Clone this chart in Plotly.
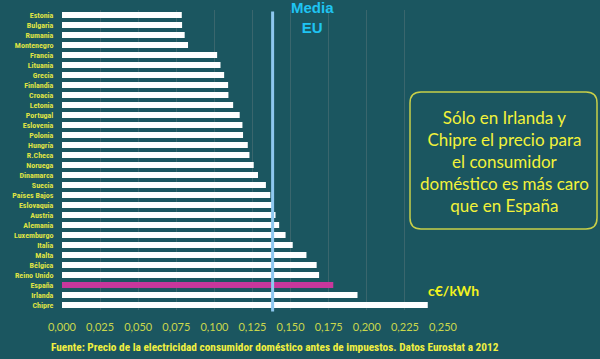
import plotly.graph_objects as go

countries = ["Estonia", "Bulgaria", "Rumania", "Montenegro", "Francia", "Lituania", "Grecia",
             "Finlandia", "Croacia", "Letonia", "Portugal", "Eslovenia", "Polonia", "Hungría",
             "R.Checa", "Noruega", "Dinamarca", "Suecia", "Países Bajos", "Eslovaquia", "Austria",
             "Alemania", "Luxemburgo", "Italia", "Malta", "Bélgica", "Reino Unido", "España",
             "Irlanda", "Chipre"]
prices = [0.0786, 0.0788, 0.0805, 0.0827, 0.1018, 0.1040, 0.1064,
          0.1090, 0.1092, 0.1123, 0.1166, 0.1184, 0.1188, 0.1219,
          0.1230, 0.1258, 0.1286, 0.1338, 0.1367, 0.1390, 0.1401,
          0.1425, 0.1467, 0.1514, 0.1604, 0.1671, 0.1687, 0.1780,
          0.1939, 0.2400]
eu_mean = 0.1382
highlight = "España"

x_tickvals = [0.0, 0.025, 0.05, 0.075, 0.1, 0.125, 0.15, 0.175, 0.2, 0.225, 0.25]
x_ticktext = ["0,000", "0,025", "0,050", "0,075", "0,100", "0,125", "0,150", "0,175",
              "0,200", "0,225", "0,250"]

BG = "#1b5660"
colors = ["#c8379c" if c == highlight else "#ffffff" for c in countries]

fig = go.Figure()
fig.add_trace(go.Bar(
    x=prices, y=countries, orientation="h",
    marker=dict(color=colors, line=dict(width=0)),
    width=0.6, hoverinfo="x+y",
))

# EU mean line
fig.add_shape(type="line", xref="x", yref="paper", x0=eu_mean, x1=eu_mean, y0=-0.005, y1=0.995,
              line=dict(color="#8ec8f0", width=3), layer="above")

# Rounded box (paper coords: px -> (px-62)/381, py -> (310-py)/300)
def px(x):
    return (x - 62) / 381.0

def py(y):
    return (310 - y) / 300.0

x0, x1, y0, y1, r = 410, 597, 92, 229, 11
path = (f"M {px(x0 + r)},{py(y0)} L {px(x1 - r)},{py(y0)} Q {px(x1)},{py(y0)} {px(x1)},{py(y0 + r)} "
        f"L {px(x1)},{py(y1 - r)} Q {px(x1)},{py(y1)} {px(x1 - r)},{py(y1)} "
        f"L {px(x0 + r)},{py(y1)} Q {px(x0)},{py(y1)} {px(x0)},{py(y1 - r)} "
        f"L {px(x0)},{py(y0 + r)} Q {px(x0)},{py(y0)} {px(x0 + r)},{py(y0)} Z")
fig.add_shape(type="path", xref="paper", yref="paper", path=path,
              line=dict(color="#c8cf48", width=1.5), fillcolor="rgba(0,0,0,0)")

fig.add_annotation(xref="paper", yref="paper", x=px(504), y=py(162),
                   text="Sólo en Irlanda y<br>Chipre el precio para<br>el consumidor<br>doméstico es más caro<br>que en España",
                   showarrow=False, align="center", xanchor="center", yanchor="middle",
                   font=dict(family="Lato, Open Sans, Arial", size=17, color="#f2f23a"))

fig.add_annotation(xref="paper", yref="paper", x=px(312), y=py(18),
                   text="<b>Media<br>EU</b>", showarrow=False, align="center",
                   xanchor="center", yanchor="middle",
                   font=dict(family="Liberation Sans, Arial", size=15, color="#1fc4f2"))

fig.add_annotation(xref="paper", yref="paper", x=px(426), y=py(290),
                   text="<b>c€/kWh</b>", showarrow=False, xanchor="left", yanchor="middle",
                   font=dict(family="Lato, Open Sans, Arial", size=14, color="#f2f21e"))

fig.add_annotation(xref="paper", yref="paper", x=px(49), y=py(347),
                   text="<b>Fuente: Precio de la electricidad consumidor doméstico antes de impuestos. Datos Eurostat a 2012</b>",
                   showarrow=False, xanchor="left", yanchor="middle",
                   font=dict(family="Liberation Sans Narrow, Roboto Condensed, Arial Narrow, Arial", size=11.3, color="#f0f040"))

fig.update_layout(
    width=600, height=359,
    margin=dict(l=62, r=157, t=10, b=49),
    paper_bgcolor=BG, plot_bgcolor=BG,
    showlegend=False,
    xaxis=dict(range=[0, 0.25], tickvals=x_tickvals, ticktext=x_ticktext,
               showgrid=True, gridcolor="#3a666d", gridwidth=1, zeroline=False,
               ticks="outside", ticklen=7, tickcolor=BG, showline=False,
               tickfont=dict(family="Lato, Open Sans, Arial", size=11, color="#cad84c")),
    yaxis=dict(autorange="reversed", showgrid=False, zeroline=False,
               ticks="outside", ticklen=6, tickcolor=BG,
               tickfont=dict(family="Liberation Sans Narrow, Roboto Condensed, Arial Narrow, Arial",
                             size=8, color="#dfe245", weight="bold"),
               ),
)

fig.write_html("out.html", config={"displayModeBar": False},
               post_script="document.body.style.margin='0';document.body.style.overflow='hidden';")
